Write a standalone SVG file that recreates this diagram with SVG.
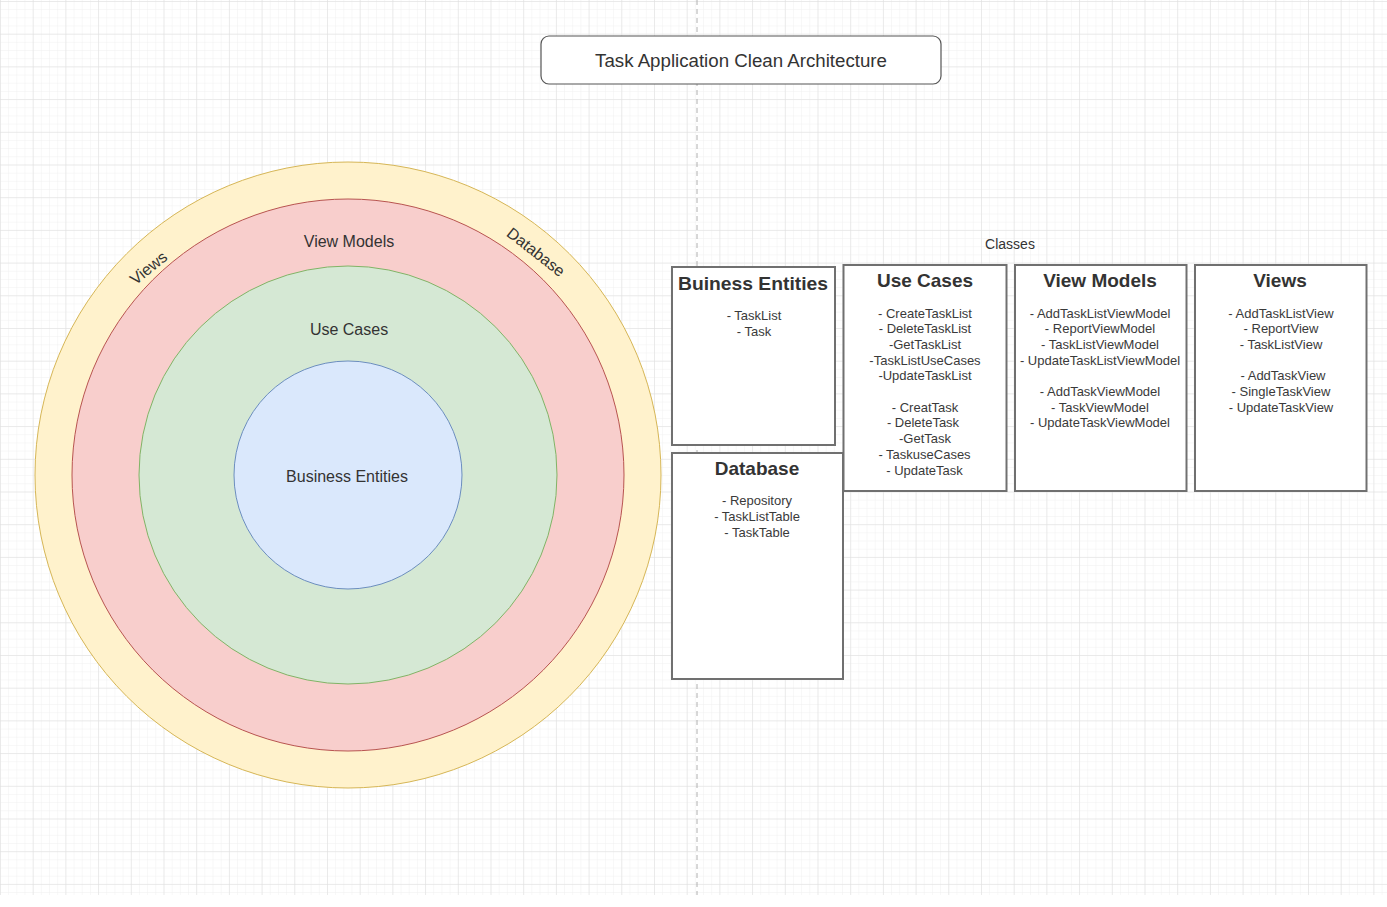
<svg xmlns="http://www.w3.org/2000/svg" width="1387" height="907" viewBox="0 0 1387 907">
  <defs>
    <pattern id="minor" patternUnits="userSpaceOnUse" x="0" y="1" width="8.175" height="8.175">
      <path d="M0 0 H8.175 M0 0 V8.175" fill="none" stroke="#f0f0f0" stroke-width="1"/>
    </pattern>
    <pattern id="major" patternUnits="userSpaceOnUse" x="0" y="1" width="32.7" height="32.7">
      <path d="M0 0 H32.7 M0 0 V32.7" fill="none" stroke="#dedede" stroke-width="1"/>
    </pattern>
  </defs>
  <style>
    .lbl { font-family: "Liberation Sans", Arial, sans-serif; font-size: 16px; fill: #333; text-anchor: middle; dominant-baseline: central; }
    .ttl { font-family: "Liberation Sans", Arial, sans-serif; font-size: 19px; font-weight: bold; fill: #333; text-anchor: middle; dominant-baseline: central; }
    .itm { font-family: "Liberation Sans", Arial, sans-serif; font-size: 13px; fill: #3a3a3a; text-anchor: middle; dominant-baseline: central; }
    .box { fill: #ffffff; stroke: #707070; stroke-width: 2; }
  </style>
  <rect x="0" y="0" width="1387" height="907" fill="#ffffff"/>
  <rect x="0" y="0" width="1387" height="895" fill="url(#minor)"/>
  <rect x="0" y="0" width="1387" height="895" fill="url(#major)"/>
  <g id="connectors">
    <line x1="697" y1="0" x2="697" y2="895" stroke="#b0b0b0" stroke-width="1" stroke-dasharray="5 4"/>
  </g>

  <g id="title">
    <rect x="541" y="36" width="400" height="48" rx="8" ry="8" fill="#ffffff" stroke="#555" stroke-width="1.2"/>
    <text x="741" y="60" class="lbl" style="font-size:18.7px">Task Application Clean Architecture</text>
  </g>

  <g id="ring-views">
    <circle cx="348" cy="475" r="313" fill="#fff2cc" stroke="#d6b656" stroke-width="1"/>
    <text class="lbl" transform="translate(148.5 268) rotate(-39)">Views</text>
    <text class="lbl" transform="translate(536 252) rotate(38)">Database</text>
  </g>
  <g id="ring-viewmodels">
    <circle cx="348" cy="475" r="276" fill="#f8cecc" stroke="#b85450" stroke-width="1"/>
    <text class="lbl" x="349" y="241">View Models</text>
  </g>
  <g id="ring-usecases">
    <circle cx="348" cy="475" r="209" fill="#d5e8d4" stroke="#82b366" stroke-width="1"/>
    <text class="lbl" x="349" y="329">Use Cases</text>
  </g>
  <g id="ring-entities">
    <circle cx="348" cy="475" r="114" fill="#dae8fc" stroke="#6c8ebf" stroke-width="1"/>
    <text class="lbl" x="347" y="476">Business Entities</text>
  </g>

  <text class="lbl" x="1010" y="244" style="font-size:14px">Classes</text>

  <g id="box-entities">
    <rect class="box" x="672" y="267" width="163" height="178"/>
    <text class="ttl" x="753" y="283" textLength="150" lengthAdjust="spacingAndGlyphs">Buiness Entities</text>
    <text class="itm" x="754" y="315">- TaskList</text>
    <text class="itm" x="754" y="331">- Task</text>
  </g>
  <g id="box-database">
    <rect class="box" x="672" y="453" width="171" height="226"/>
    <text class="ttl" x="757" y="468">Database</text>
    <text class="itm" x="757" y="500">- Repository</text>
    <text class="itm" x="757" y="516">- TaskListTable</text>
    <text class="itm" x="757" y="532">- TaskTable</text>
  </g>
  <g id="box-usecases">
    <rect class="box" x="843.5" y="265" width="163" height="226"/>
    <text class="ttl" x="925" y="280">Use Cases</text>
    <text class="itm" x="925" y="313">- CreateTaskList</text>
    <text class="itm" x="925" y="328.7">- DeleteTaskList</text>
    <text class="itm" x="925" y="344.4">-GetTaskList</text>
    <text class="itm" x="925" y="360.1">-TaskListUseCases</text>
    <text class="itm" x="925" y="375.8">-UpdateTaskList</text>
    <text class="itm" x="925" y="407.2">- CreatTask</text>
    <text class="itm" x="923" y="422.9">- DeleteTask</text>
    <text class="itm" x="925" y="438.6">-GetTask</text>
    <text class="itm" x="924.5" y="454.3">- TaskuseCases</text>
    <text class="itm" x="924.5" y="470">- UpdateTask</text>
  </g>
  <g id="box-viewmodels">
    <rect class="box" x="1015" y="265" width="171.5" height="226"/>
    <text class="ttl" x="1100" y="280">View Models</text>
    <text class="itm" x="1100" y="313">- AddTaskListViewModel</text>
    <text class="itm" x="1100" y="328.7">- ReportViewModel</text>
    <text class="itm" x="1100" y="344.4">- TaskListViewModel</text>
    <text class="itm" x="1100" y="360.1">- UpdateTaskListViewModel</text>
    <text class="itm" x="1100" y="391.5">- AddTaskViewModel</text>
    <text class="itm" x="1100" y="407.2">- TaskViewModel</text>
    <text class="itm" x="1100" y="422.9">- UpdateTaskViewModel</text>
  </g>
  <g id="box-views">
    <rect class="box" x="1195" y="265" width="171.5" height="226"/>
    <text class="ttl" x="1280" y="280">Views</text>
    <text class="itm" x="1281" y="313">- AddTaskListView</text>
    <text class="itm" x="1281" y="328.7">- ReportView</text>
    <text class="itm" x="1281" y="344.4">- TaskListView</text>
    <text class="itm" x="1283" y="375.8">- AddTaskView</text>
    <text class="itm" x="1281" y="391.5">- SingleTaskView</text>
    <text class="itm" x="1281" y="407.2">- UpdateTaskView</text>
  </g>
</svg>
